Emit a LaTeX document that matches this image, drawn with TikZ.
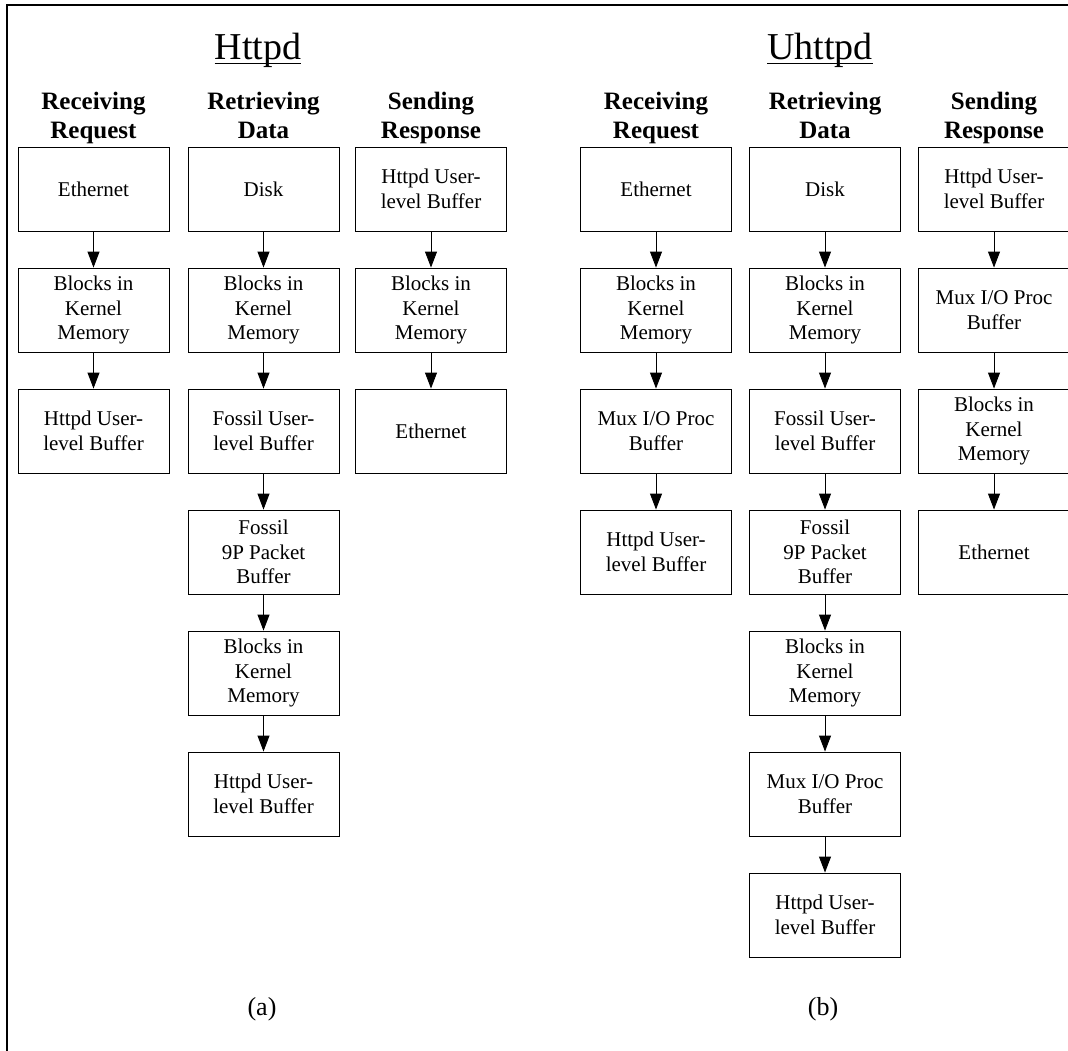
\documentclass[tikz,border=0pt]{standalone}
\usepackage{fontspec}
\setmainfont{Liberation Serif}
\usetikzlibrary{arrows.meta}
\tikzset{
  box/.style={draw, line width=0.9pt, minimum width=151pt, minimum height=84pt, align=center, inner sep=0pt,
    font=\fontsize{21}{24.5}\selectfont},
  head/.style={align=center, inner sep=0pt, font=\fontsize{25}{28.5}\selectfont\bfseries},
  ttl/.style={anchor=base, inner sep=0pt, font=\fontsize{38}{40}\selectfont},
  captxt/.style={anchor=base, inner sep=0pt, font=\fontsize{26}{28}\selectfont},
  flow/.style={-{Triangle[length=16pt,width=12pt]}, line width=0.9pt},
  frame/.style={line width=1.1pt}
}
\begin{document}
\begin{tikzpicture}[x=1pt,y=-1pt]
\useasboundingbox (0,0) rectangle (1068,1051);
% frame
\coordinate (fa) at (7,1051);
\coordinate (fb) at (7,5);
\coordinate (fc) at (1070,5);
\draw[frame] (fa) -- (fb) -- (fc);
% titles
\node[ttl] (t1) at (258,60) {Httpd};
\node[ttl] (t2) at (820,60) {Uhttpd};
\draw[line width=1pt] ([yshift=-4pt]t1.base west) -- ([yshift=-4pt]t1.base east);
\draw[line width=1pt] ([yshift=-4pt]t2.base west) -- ([yshift=-4pt]t2.base east);
% column headers
\node[head] (h1) at (93.5,118.5) {Receiving\strut\\Request\strut};
\node[head] (h2) at (263.5,118.5) {Retrieving\strut\\Data\strut};
\node[head] (h3) at (431,118.5) {Sending\strut\\Response\strut};
\node[head] (h4) at (656,118.5) {Receiving\strut\\Request\strut};
\node[head] (h5) at (825,118.5) {Retrieving\strut\\Data\strut};
\node[head] (h6) at (994,118.5) {Sending\strut\\Response\strut};
% Httpd col 1
\node[box] (a1) at (93.5,189) {Ethernet};
\node[box] (a2) at (93.5,310) {Blocks in\\Kernel\\Memory};
\node[box] (a3) at (93.5,431) {Httpd User-\\level Buffer};
% Httpd col 2
\node[box] (b1) at (263.5,189) {Disk};
\node[box] (b2) at (263.5,310) {Blocks in\\Kernel\\Memory};
\node[box] (b3) at (263.5,431) {Fossil User-\\level Buffer};
\node[box] (b4) at (263.5,552) {Fossil\\9P Packet\\Buffer};
\node[box] (b5) at (263.5,673) {Blocks in\\Kernel\\Memory};
\node[box] (b6) at (263.5,794) {Httpd User-\\level Buffer};
% Httpd col 3
\node[box] (c1) at (431,189) {Httpd User-\\level Buffer};
\node[box] (c2) at (431,310) {Blocks in\\Kernel\\Memory};
\node[box] (c3) at (431,431) {Ethernet};
% Uhttpd col 1
\node[box] (d1) at (656,189) {Ethernet};
\node[box] (d2) at (656,310) {Blocks in\\Kernel\\Memory};
\node[box] (d3) at (656,431) {Mux I/O Proc\\Buffer};
\node[box] (d4) at (656,552) {Httpd User-\\level Buffer};
% Uhttpd col 2
\node[box] (e1) at (825,189) {Disk};
\node[box] (e2) at (825,310) {Blocks in\\Kernel\\Memory};
\node[box] (e3) at (825,431) {Fossil User-\\level Buffer};
\node[box] (e4) at (825,552) {Fossil\\9P Packet\\Buffer};
\node[box] (e5) at (825,673) {Blocks in\\Kernel\\Memory};
\node[box] (e6) at (825,794) {Mux I/O Proc\\Buffer};
\node[box] (e7) at (825,915) {Httpd User-\\level Buffer};
% Uhttpd col 3
\node[box] (f1) at (994,189) {Httpd User-\\level Buffer};
\node[box] (f2) at (994,310) {Mux I/O Proc\\Buffer};
\node[box] (f3) at (994,431) {Blocks in\\Kernel\\Memory};
\node[box] (f4) at (994,552) {Ethernet};
% arrows
\foreach \p/\q in {a1/a2,a2/a3,b1/b2,b2/b3,b3/b4,b4/b5,b5/b6,c1/c2,c2/c3,
  d1/d2,d2/d3,d3/d4,e1/e2,e2/e3,e3/e4,e4/e5,e5/e6,e6/e7,f1/f2,f2/f3,f3/f4}
  \draw[flow] (\p.south) -- (\q.north);
% captions
\node[captxt] (ca) at (262,1015) {(a)};
\node[captxt] (cb) at (823,1015) {(b)};
\end{tikzpicture}
\end{document}
